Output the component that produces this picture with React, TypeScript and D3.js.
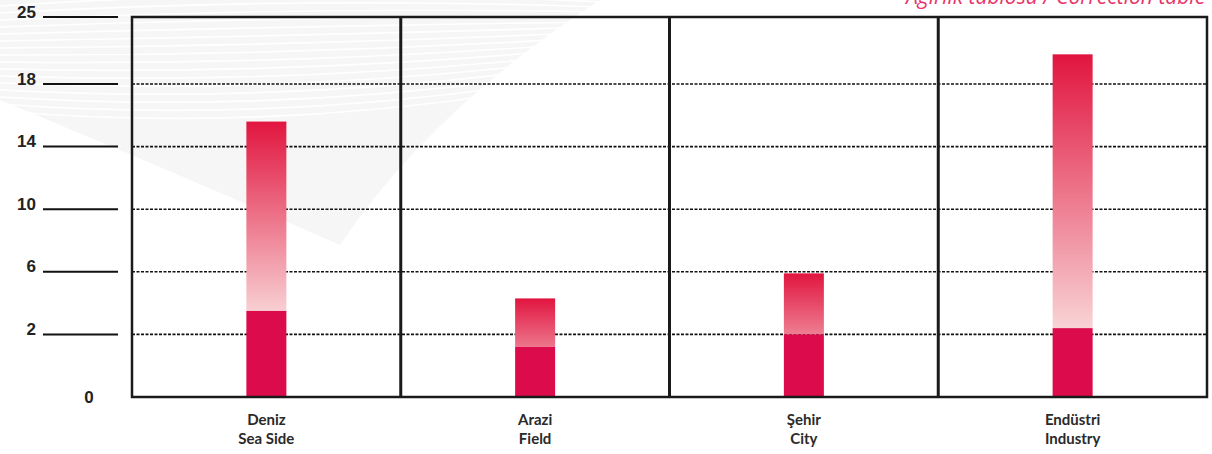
import { useEffect } from 'react';
import * as d3 from 'd3';

// category labels (Turkish / English)
const categoriesTr = ['Deniz', 'Arazi', 'Şehir', 'Endüstri'];
const categoriesEn = ['Sea Side', 'Field', 'City', 'Industry'];

// solid lower part and total height of each bar
const baseValues = [3.5, 1.6, 2.0, 2.4];
const totalValues = [15.6, 4.3, 5.9, 21.1];

// the y axis is labelled at uneven values, evenly spaced
const yTicks = [0, 2, 6, 10, 14, 18, 25];

const title = 'Ağırlık tablosu / Correction table';

const width = 1212;
const height = 454;
const plotLeft = 132;
const plotRight = 1207;
const plotTop = 17;
const plotBottom = 397;
const tickStep = 62.6;
const barWidth = 40;

const solidRed = '#dc0b4b';
const gradTop = '#e1153f';
const gradPale = '#f8d3d5';

export default function App(): JSX.Element {
  useEffect(() => {
    document.body.style.margin = '0';
  }, []);

  const y = d3
    .scaleLinear()
    .domain(yTicks)
    .range(yTicks.map((_, i) => (i < yTicks.length - 1 ? plotBottom - i * tickStep : plotTop)));

  const x = d3.scaleBand<string>().domain(categoriesTr).range([plotLeft, plotRight]).padding(0);

  const paleMix = d3.interpolateRgb(gradTop, gradPale);

  return (
    <svg width={width} height={height} style={{ display: 'block', background: '#fff' }}>
      <defs>
        {categoriesTr.map((c, i) => {
          const h = y(baseValues[i]) - y(totalValues[i]);
          const bottom = paleMix(Math.min(1, 0.35 + h / 300));
          return (
            <linearGradient key={c} id={`grad${i}`} x1="0" y1="0" x2="0" y2="1">
              <stop offset="0%" stopColor={gradTop} />
              <stop offset="100%" stopColor={bottom} />
            </linearGradient>
          );
        })}
      </defs>

      {/* faint watermark */}
      <g>
        <path d="M0,0 L600,0 Q430,110 340,245 Q170,170 0,100 Z" fill="#f6f6f6" />
        {d3.range(16).map((i) => (
          <path
            key={i}
            d={`M0,${6 + i * 7} Q300,${-14 + i * 10} 600,${2 + i * 5}`}
            fill="none"
            stroke="#fff"
            strokeWidth={1.6}
          />
        ))}
      </g>

      <text
        x={906}
        y={4}
        fontFamily="'Open Sans', sans-serif"
        fontStyle="italic"
        fontSize={21}
        fill="#e8336a"
      >
        {title}
      </text>

      {/* y ticks and dotted grid */}
      {yTicks.map((t) => (
        <g key={t}>
          {t !== 0 && (
            <>
              <line x1={43} x2={118} y1={y(t)} y2={y(t)} stroke="#111" strokeWidth={2} />
              <text
                x={36}
                y={y(t) + 0.5}
                textAnchor="end"
                fontFamily="'Liberation Sans', Arial, sans-serif"
                fontWeight="bold"
                fontSize={17}
                fill="#222"
              >
                {t}
              </text>
            </>
          )}
          {t !== 0 && t !== 25 && (
            <line
              x1={plotLeft}
              x2={plotRight}
              y1={y(t)}
              y2={y(t)}
              stroke="#111"
              strokeWidth={1.6}
              strokeDasharray="3 1.5"
            />
          )}
        </g>
      ))}
      <text
        x={89}
        y={plotBottom + 6}
        textAnchor="middle"
        fontFamily="'Liberation Sans', Arial, sans-serif"
        fontWeight="bold"
        fontSize={17}
        fill="#222"
      >
        0
      </text>

      {/* bars */}
      {categoriesTr.map((c, i) => {
        const cx = (x(c) ?? 0) + x.bandwidth() / 2;
        return (
          <g key={c}>
            <rect
              x={cx - barWidth / 2}
              y={y(totalValues[i])}
              width={barWidth}
              height={y(baseValues[i]) - y(totalValues[i])}
              fill={`url(#grad${i})`}
            />
            <rect
              x={cx - barWidth / 2}
              y={y(baseValues[i])}
              width={barWidth}
              height={y(0) - y(baseValues[i])}
              fill={solidRed}
            />
            <text
              x={cx}
              y={425}
              textAnchor="middle"
              fontFamily="Lato, 'Open Sans', sans-serif"
              fontWeight="bold"
              fontSize={15}
              fill="#2a2a2a"
            >
              {c}
            </text>
            <text
              x={cx}
              y={444}
              textAnchor="middle"
              fontFamily="Lato, 'Open Sans', sans-serif"
              fontWeight="bold"
              fontSize={15}
              fill="#2a2a2a"
            >
              {categoriesEn[i]}
            </text>
          </g>
        );
      })}

      {/* frame and panel dividers */}
      <rect
        x={plotLeft}
        y={plotTop}
        width={plotRight - plotLeft}
        height={plotBottom - plotTop}
        fill="none"
        stroke="#1a1a1a"
        strokeWidth={2.5}
      />
      {categoriesTr.slice(1).map((c) => (
        <line
          key={c}
          x1={x(c)}
          x2={x(c)}
          y1={plotTop}
          y2={plotBottom}
          stroke="#1a1a1a"
          strokeWidth={3}
        />
      ))}
    </svg>
  );
}
